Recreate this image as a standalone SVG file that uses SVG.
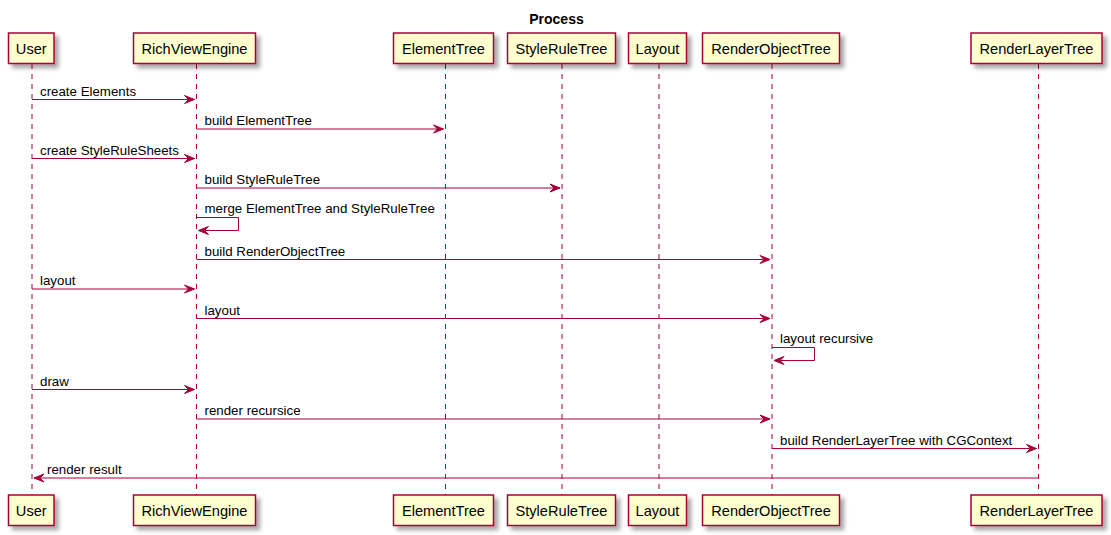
<svg xmlns="http://www.w3.org/2000/svg" width="1111" height="535" viewBox="0 0 1111 535">
<style>
.box{fill:#FEFECE;stroke:#A80036;stroke-width:1.5;filter:url(#sh)}
.pt{font-family:"Liberation Sans",Arial,sans-serif;font-size:14.6px;fill:#000;text-anchor:middle}
.life{stroke:#A80036;stroke-width:1;stroke-dasharray:5,5;fill:none}
.msg{stroke:#A80036;stroke-width:1;fill:none}
.head{fill:#A80036;stroke:#A80036;stroke-width:1}
.ml{font-family:"Liberation Sans",Arial,sans-serif;font-size:13.3px;fill:#000}
.title{font-family:"Liberation Sans",Arial,sans-serif;font-size:14px;font-weight:bold;fill:#000;text-anchor:middle}
</style>
<defs>
<filter id="sh" x="-20%" y="-30%" width="150%" height="180%">
<feGaussianBlur in="SourceAlpha" stdDeviation="2"/>
<feOffset dx="4" dy="4" result="b"/>
<feComponentTransfer><feFuncA type="linear" slope="0.35"/></feComponentTransfer>
<feMerge><feMergeNode/><feMergeNode in="SourceGraphic"/></feMerge>
</filter>
</defs>
<rect width="1111" height="535" fill="#FFFFFF"/>
<text class="title" x="556.5" y="23.5">Process</text>

<g id="lifelines">
<line class="life" x1="32" y1="64" x2="32" y2="495"/>
<line class="life" x1="196.5" y1="64" x2="196.5" y2="495"/>
<line class="life" x1="445.5" y1="64" x2="445.5" y2="495"/>
<line class="life" x1="562" y1="64" x2="562" y2="495"/>
<line class="life" x1="659" y1="64" x2="659" y2="495"/>
<line class="life" x1="772" y1="64" x2="772" y2="495"/>
<line class="life" x1="1038.5" y1="64" x2="1038.5" y2="495"/>
</g>

<g id="User">
<rect class="box" x="8.5" y="33" width="45.5" height="30.5"/>
<text class="pt" x="31.25" y="53.5">User</text>
<rect class="box" x="8.5" y="495" width="45.5" height="30.5"/>
<text class="pt" x="31.25" y="515.5">User</text>
</g>
<g id="RichViewEngine">
<rect class="box" x="133.5" y="33" width="122" height="30.5"/>
<text class="pt" x="194.5" y="53.5">RichViewEngine</text>
<rect class="box" x="133.5" y="495" width="122" height="30.5"/>
<text class="pt" x="194.5" y="515.5">RichViewEngine</text>
</g>
<g id="ElementTree">
<rect class="box" x="393.5" y="33" width="100" height="30.5"/>
<text class="pt" x="443.5" y="53.5">ElementTree</text>
<rect class="box" x="393.5" y="495" width="100" height="30.5"/>
<text class="pt" x="443.5" y="515.5">ElementTree</text>
</g>
<g id="StyleRuleTree">
<rect class="box" x="507.5" y="33" width="108" height="30.5"/>
<text class="pt" x="561.5" y="53.5">StyleRuleTree</text>
<rect class="box" x="507.5" y="495" width="108" height="30.5"/>
<text class="pt" x="561.5" y="515.5">StyleRuleTree</text>
</g>
<g id="Layout">
<rect class="box" x="628.5" y="33" width="58" height="30.5"/>
<text class="pt" x="657.5" y="53.5">Layout</text>
<rect class="box" x="628.5" y="495" width="58" height="30.5"/>
<text class="pt" x="657.5" y="515.5">Layout</text>
</g>
<g id="RenderObjectTree">
<rect class="box" x="702.5" y="33" width="137" height="30.5"/>
<text class="pt" x="771" y="53.5">RenderObjectTree</text>
<rect class="box" x="702.5" y="495" width="137" height="30.5"/>
<text class="pt" x="771" y="515.5">RenderObjectTree</text>
</g>
<g id="RenderLayerTree">
<rect class="box" x="971" y="33" width="131" height="30.5"/>
<text class="pt" x="1036.5" y="53.5">RenderLayerTree</text>
<rect class="box" x="971" y="495" width="131" height="30.5"/>
<text class="pt" x="1036.5" y="515.5">RenderLayerTree</text>
</g>

<g id="connectors">
<line class="msg" x1="32" y1="99.5" x2="194.5" y2="99.5"/>
<polygon class="head" points="184.5,95.5 194.5,99.5 184.5,103.5 188.5,99.5"/>
<text class="ml" x="40" y="95.5">create Elements</text>

<line class="msg" x1="196.5" y1="129" x2="443.5" y2="129"/>
<polygon class="head" points="433.5,125 443.5,129 433.5,133 437.5,129"/>
<text class="ml" x="204.5" y="125">build ElementTree</text>

<line class="msg" x1="32" y1="158.5" x2="194.5" y2="158.5"/>
<polygon class="head" points="184.5,154.5 194.5,158.5 184.5,162.5 188.5,158.5"/>
<text class="ml" x="40" y="154.5">create StyleRuleSheets</text>

<line class="msg" x1="196.5" y1="188" x2="560" y2="188"/>
<polygon class="head" points="550,184 560,188 550,192 554,188"/>
<text class="ml" x="204.5" y="184">build StyleRuleTree</text>

<polyline class="msg" points="196.5,217.5 238.5,217.5 238.5,230.5 198.5,230.5"/>
<polygon class="head" points="208.5,226.5 198.5,230.5 208.5,234.5 204.5,230.5"/>
<text class="ml" x="204.5" y="213">merge ElementTree and StyleRuleTree</text>

<line class="msg" x1="196.5" y1="259.5" x2="770" y2="259.5"/>
<polygon class="head" points="760,255.5 770,259.5 760,263.5 764,259.5"/>
<text class="ml" x="204.5" y="255.5">build RenderObjectTree</text>

<line class="msg" x1="32" y1="289" x2="194.5" y2="289"/>
<polygon class="head" points="184.5,285 194.5,289 184.5,293 188.5,289"/>
<text class="ml" x="40" y="285">layout</text>

<line class="msg" x1="196.5" y1="318.5" x2="770" y2="318.5"/>
<polygon class="head" points="760,314.5 770,318.5 760,322.5 764,318.5"/>
<text class="ml" x="204.5" y="314.5">layout</text>

<polyline class="msg" points="772,347.5 814.5,347.5 814.5,360.5 774,360.5"/>
<polygon class="head" points="784,356.5 774,360.5 784,364.5 780,360.5"/>
<text class="ml" x="780" y="343">layout recursive</text>

<line class="msg" x1="32" y1="389.5" x2="194.5" y2="389.5"/>
<polygon class="head" points="184.5,385.5 194.5,389.5 184.5,393.5 188.5,389.5"/>
<text class="ml" x="40" y="385.5">draw</text>

<line class="msg" x1="196.5" y1="419" x2="770" y2="419"/>
<polygon class="head" points="760,415 770,419 760,423 764,419"/>
<text class="ml" x="204.5" y="415">render recursice</text>

<line class="msg" x1="772" y1="448.5" x2="1036.5" y2="448.5"/>
<polygon class="head" points="1026.5,444.5 1036.5,448.5 1026.5,452.5 1030.5,448.5"/>
<text class="ml" x="780" y="444.5">build RenderLayerTree with CGContext</text>

<line class="msg" x1="34" y1="478" x2="1038.5" y2="478"/>
<polygon class="head" points="44,474 34,478 44,482 40,478"/>
<text class="ml" x="47" y="474">render result</text>
</g>
</svg>
